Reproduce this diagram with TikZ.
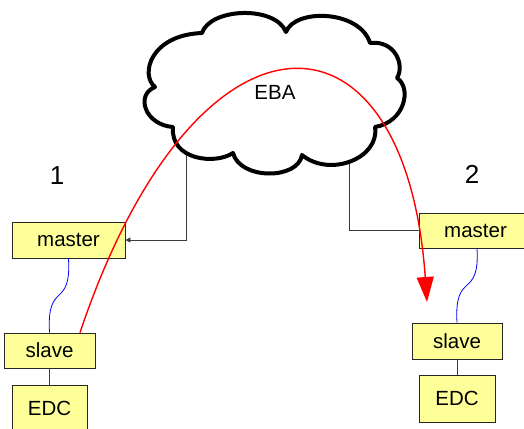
\documentclass[tikz,border=0pt]{standalone}
\usepackage{fontspec}
\setmainfont{Liberation Sans}
\usetikzlibrary{arrows.meta}
\definecolor{boxfill}{RGB}{255,255,153}
\definecolor{linkgray}{RGB}{60,60,60}
\begin{document}
\begin{tikzpicture}[x=1pt,y=-1pt,
  unit/.style={draw=black!85,line width=0.8pt,fill=boxfill,inner sep=0pt,
    font=\fontsize{20.5}{24}\selectfont},
  link/.style={draw=linkgray,line width=0.8pt},
  wire/.style={draw=blue,line width=0.8pt},
  route/.style={draw=red,line width=1.4pt},
  sitelabel/.style={font=\fontsize{26}{30}\selectfont,inner sep=0pt}]
\useasboundingbox (0,0) rectangle (524,428);

% site 1
\node[unit,minimum width=113pt,minimum height=36pt] (m1) at (68.5,240) {master};
\node[unit,minimum width=91pt,minimum height=35pt] (s1) at (49.5,350.5) {slave};
\node[unit,minimum width=75pt,minimum height=47pt] (e1) at (49.5,408.5) {EDC};
\node[sitelabel] (n1) at (57,175.5) {1};

% site 2
\node[unit,minimum width=113pt,minimum height=35pt] (m2) at (475.5,230.5) {master};
\node[unit,minimum width=90pt,minimum height=36pt] (s2) at (457,341) {slave};
\node[unit,minimum width=76pt,minimum height=47pt] (e2) at (457,398.5) {EDC};
\node[sitelabel] (n2) at (472,174) {2};

% links from the cloud to the masters
\coordinate (c1) at (186,150);
\coordinate (c2) at (349,150);
\draw[link,-{Triangle[length=5pt,width=5pt]}] (c1) |- (m1.east);
\draw[link] (c2) |- (m2.west);

% the EBA cloud
\draw[line width=4pt,line join=round,fill=white]
  (155,87) .. controls (140,75) and (150,35) .. (202,33)
  .. controls (210,8) and (275,5) .. (286,32)
  .. controls (295,8) and (360,10) .. (370,43)
  .. controls (395,40) and (405,65) .. (397,78)
  .. controls (412,88) and (405,122) .. (375,127)
  .. controls (380,158) and (330,178) .. (302,155)
  .. controls (298,180) and (240,180) .. (233,153)
  .. controls (215,165) and (170,160) .. (173,127)
  .. controls (145,125) and (135,95) .. cycle;
\node[font=\fontsize{20.5}{24}\selectfont,inner sep=0pt] (eba) at (275,92) {EBA};

% master-slave wires and slave-EDC links
\draw[wire] (m1.south) .. controls +(3,52) and +(-3,-53) .. (s1.north);
\draw[wire] ([xshift=1.5pt]m2.south) .. controls +(3,52) and +(-3,-53) .. (s2.north);
\draw[link] (s1.south) -- (e1.north);
\draw[link] (s2.south) -- (e2.north);

% path through the cloud
\coordinate (tip) at (427,302);
\draw[route,-{Triangle[length=25pt,width=17pt]}]
  ([xshift=30.5pt]s1.north) .. controls (195,-10) and (405,-10) .. (tip);
\end{tikzpicture}
\end{document}
